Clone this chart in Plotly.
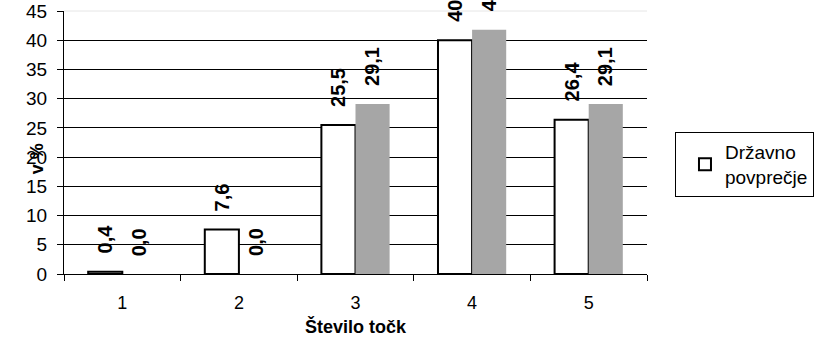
import plotly.graph_objects as go

categories = ["1", "2", "3", "4", "5"]
school = [0.4, 7.6, 25.5, 40.0, 26.4]
national = [0.0, 0.0, 29.1, 41.8, 29.1]
y_ticks = [0, 5, 10, 15, 20, 25, 30, 35, 40, 45]

font = "Arial, Liberation Sans, sans-serif"


def fmt(v):
    return f"{v:.1f}".replace(".", ",")


fig = go.Figure()

fig.add_trace(go.Bar(
    x=categories,
    y=school,
    name="Državno<br>povprečje",
    marker=dict(color="white", line=dict(color="black", width=2)),
))

fig.add_trace(go.Bar(
    x=categories,
    y=national,
    name="Šola",
    marker=dict(color="#A6A6A6", line=dict(width=0)),
    showlegend=False,
))

# rotated value labels above the bars (x given as category index)
for series, shift in [(school, -17), (national, 17)]:
    for i, val in enumerate(series):
        fig.add_annotation(
            x=i, y=val, text=fmt(val),
            textangle=-90, showarrow=False,
            xanchor="center", yanchor="bottom",
            xshift=shift, yshift=16,
            font=dict(family=font, size=20, color="black", weight="bold"),
        )

fig.add_annotation(
    x=-0.067, y=0.44, xref="paper", yref="paper",
    text="v %", textangle=-90, showarrow=False,
    font=dict(family=font, size=18, color="black", weight="bold"),
)

# title sits mostly above the visible page, as in the reference
fig.add_annotation(
    x=0.5, y=1, xref="paper", yref="paper",
    xanchor="center", yanchor="bottom", yshift=9,
    text="Rezultati naloge — delež po točkah", showarrow=False,
    font=dict(family=font, size=18, color="black", weight="bold"),
)

fig.add_shape(
    type="line", xref="paper", yref="paper",
    x0=0, x1=1, y0=1, y1=1,
    line=dict(color="#E6E6E6", width=1), layer="above",
)

fig.update_layout(
    width=834,
    height=340,
    margin=dict(l=56, r=195, t=11, b=66, autoexpand=False),
    plot_bgcolor="white",
    paper_bgcolor="white",
    font=dict(family=font, size=18, color="black"),
    barmode="group",
    bargap=0.415,
    bargroupgap=0,
    xaxis=dict(
        type="category",
        automargin=False,
        tickson="boundaries",
        ticks="outside",
        ticklen=6,
        tickcolor="black",
        ticklabelstandoff=12,
        showline=True,
        linecolor="black",
        linewidth=1,
        showgrid=False,
        title=dict(text="Število točk", standoff=8,
                   font=dict(family=font, size=18, weight="bold")),
        tickfont=dict(size=18),
    ),
    yaxis=dict(
        range=[0, 45],
        automargin=False,
        tickvals=y_ticks,
        ticks="outside",
        ticklen=6,
        tickcolor="black",
        ticklabelstandoff=6,
        ticklabeloverflow="allow",
        showline=True,
        linecolor="black",
        linewidth=1,
        showgrid=True,
        gridcolor="black",
        gridwidth=1,
        zeroline=False,
        tickfont=dict(size=19),
    ),
    legend=dict(
        x=1.048, y=0.54,
        xanchor="left", yanchor="top",
        bordercolor="black",
        borderwidth=1,
        bgcolor="white",
        indentation=9,
        font=dict(family=font, size=19),
    ),
)

fig.write_html("out.html", post_script="document.body.style.marginTop = '0px';")
